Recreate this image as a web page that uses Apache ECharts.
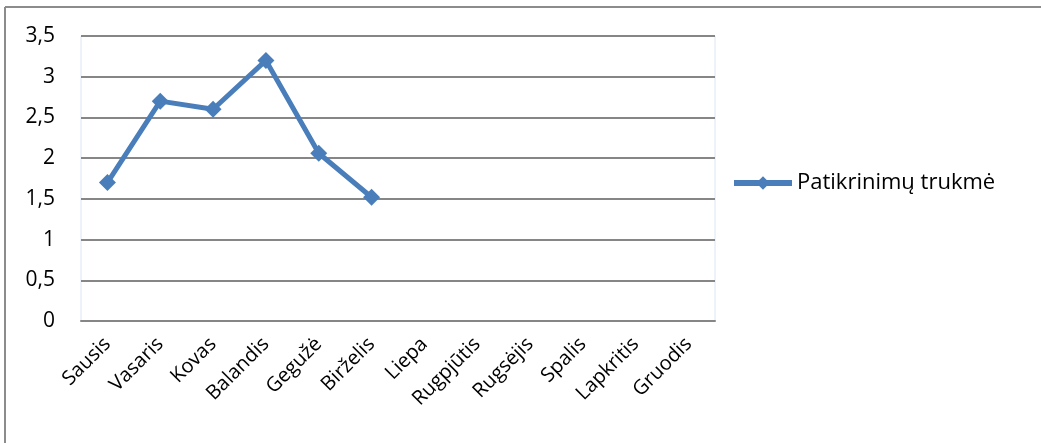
<!DOCTYPE html>
<html><head><meta charset="utf-8">
<script src="https://cdn.jsdelivr.net/npm/echarts@6/dist/echarts.min.js"></script>
<style>html,body{margin:0;padding:0;background:#fff}#c{width:1041px;height:443px}</style>
</head><body><div id="c"></div>
<script>
const categories = ['Sausis','Vasaris','Kovas','Balandis','Gegužė','Birželis','Liepa','Rugpjūtis','Rugsėjis','Spalis','Lapkritis','Gruodis'];
const seriesName = 'Patikrinimų trukmė';
const values = [1.7, 2.7, 2.6, 3.2, 2.06, 1.52, null, null, null, null, null, null];
const yTicks = [0, 0.5, 1, 1.5, 2, 2.5, 3, 3.5];

const font = '"Open Sans", Lato, sans-serif';
const chart = echarts.init(document.getElementById('c'));
chart.setOption({
  animation: false,
  backgroundColor: '#fff',
  graphic: [
    {type:'line', shape:{x1:5,y1:7,x2:1041,y2:7}, style:{stroke:'#8c8c8c', lineWidth:2}},
    {type:'line', shape:{x1:5,y1:7,x2:5,y2:443}, style:{stroke:'#8c8c8c', lineWidth:2}}
  ],
  grid: {left:81, top:36, width:634, height:285, show:true, borderColor:'#dce6f2', borderWidth:1, backgroundColor:'transparent'},
  legend: {
    data:[seriesName], left:731, top:172, padding:0, itemWidth:58, itemHeight:17, itemGap:1,
    lineStyle:{width:6},
    textStyle:{fontFamily:font, fontSize:22, color:'#000'}
  },
  xAxis: {
    type:'category', data:categories, boundaryGap:true,
    axisLine:{show:true, lineStyle:{color:'#868686', width:2}},
    axisTick:{show:false},
    axisLabel:{rotate:45, interval:0, fontFamily:font, fontSize:20, color:'#000', margin:20}
  },
  yAxis: {
    type:'value', min:yTicks[0], max:yTicks[yTicks.length-1], interval:0.5,
    axisLine:{show:false}, axisTick:{show:false},
    splitLine:{lineStyle:{color:'#868686', width:2}},
    axisLabel:{fontFamily:font, fontSize:21, color:'#000', margin:26,
      formatter: v => String(v).replace('.', ',')}
  },
  series: [{
    name: seriesName, type:'line', data: values,
    lineStyle:{color:'#4a7ebb', width:5},
    itemStyle:{color:'#4a7ebb'},
    symbol:'diamond', symbolSize:17, showSymbol:true,
    connectNulls:false
  }]
});
</script></body></html>
